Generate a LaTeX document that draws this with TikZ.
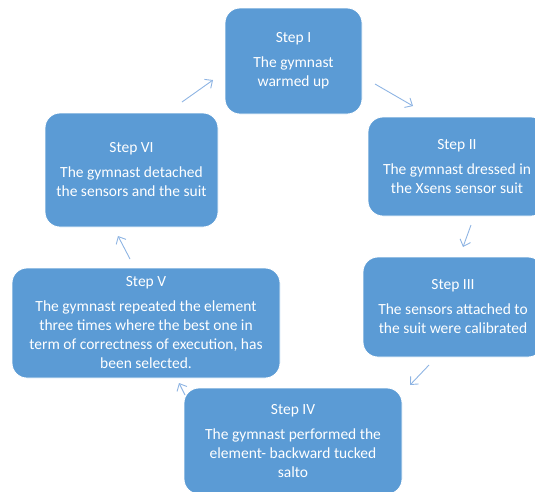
\documentclass[tikz,border=0pt]{standalone}
\usepackage{fontspec}
\setmainfont{Carlito}
\usetikzlibrary{arrows.meta}
\definecolor{boxblue}{HTML}{5B9BD5}
\definecolor{arrowblue}{HTML}{8EB4E3}
\begin{document}
\begin{tikzpicture}[x=1pt,y=-1pt,
 stepbox/.style={draw=white, line width=0.8pt, fill=boxblue, rounded corners=15pt, text=white, align=center, font=\fontsize{15.5}{19}\selectfont, inner sep=0pt},
 flow/.style={draw=arrowblue, line width=0.9pt, -{Straight Barb[length=6pt,width=11pt]}}]
\useasboundingbox (0,0) rectangle (535,491);
\clip (0,0) rectangle (535,491);
\coordinate (a61s) at (182,102); \coordinate (a61e) at (213,80);
\coordinate (a12s) at (375,84);  \coordinate (a12e) at (413,106);
\coordinate (a23s) at (471,225); \coordinate (a23e) at (463,247);
\coordinate (a34s) at (429,365); \coordinate (a34e) at (410,385);
\coordinate (a45s) at (185,395); \coordinate (a45e) at (179,383);
\coordinate (a56s) at (130,259); \coordinate (a56e) at (118,236);
\draw[flow] (a61s) -- (a61e);
\draw[flow] (a12s) -- (a12e);
\draw[flow] (a23s) -- (a23e);
\draw[flow] (a34s) -- (a34e);
\draw[flow] (a45s) -- (a45e);
\draw[flow] (a56s) -- (a56e);
\node[stepbox, minimum width=137pt, minimum height=106pt] (s1) at (293.5,61) {Step I\\[6pt]The gymnast\\warmed up};
\node[stepbox, minimum width=178pt, minimum height=99pt] (s2) at (457,166.5) {Step II\\[6pt]The gymnast dressed in\\the Xsens sensor suit};
\node[stepbox, minimum width=180pt, minimum height=100pt] (s3) at (453,307) {Step III\\[6pt]The sensors attached to\\the suit were calibrated};
\node[stepbox, minimum width=218pt, minimum height=106pt] (s4) at (293,441) {Step IV\\[6pt]The gymnast performed the\\element- backward tucked\\salto};
\node[stepbox, minimum width=268pt, minimum height=110pt] (s5) at (146,323) {Step V\\[6pt]The gymnast repeated the element\\three times where the best one in\\term of correctness of execution, has\\been selected.};
\node[stepbox, minimum width=173pt, minimum height=114pt] (s6) at (131.5,170) {Step VI\\[6pt]The gymnast detached\\the sensors and the suit};
\end{tikzpicture}
\end{document}
